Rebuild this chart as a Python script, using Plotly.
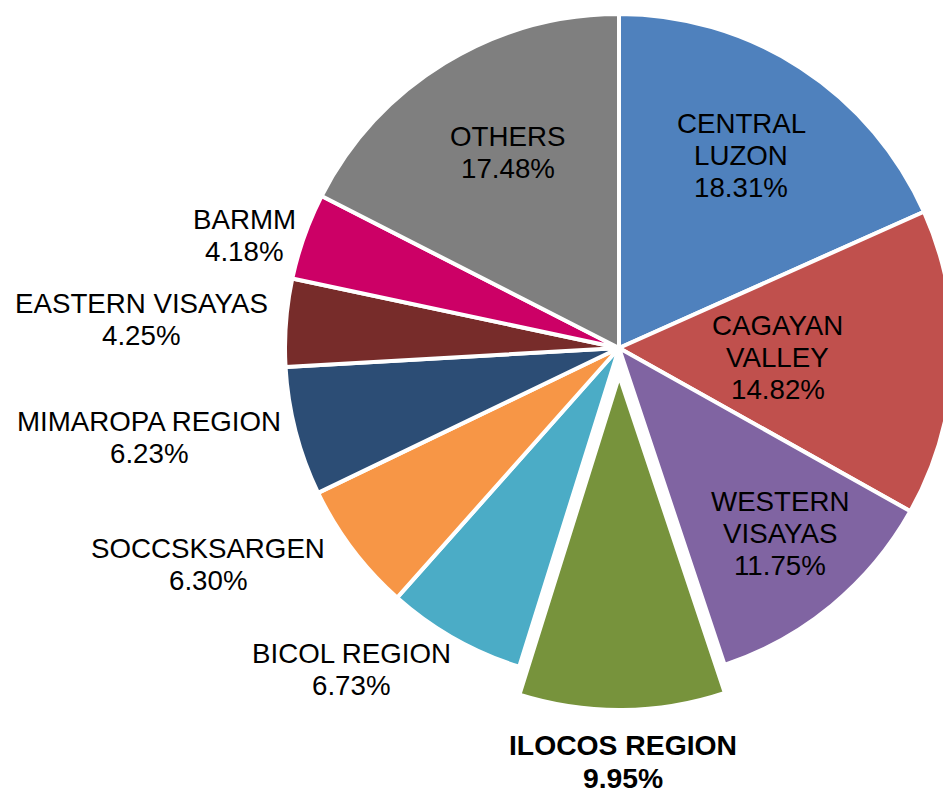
import math
import plotly.graph_objects as go

# ---------------- data ----------------
regions = ["CENTRAL LUZON", "CAGAYAN VALLEY", "WESTERN VISAYAS", "ILOCOS REGION",
           "BICOL REGION", "SOCCSKSARGEN", "MIMAROPA REGION", "EASTERN VISAYAS",
           "BARMM", "OTHERS"]
shares = [18.31, 14.82, 11.75, 9.95, 6.73, 6.30, 6.23, 4.25, 4.18, 17.48]
label_lines = [["CENTRAL", "LUZON"], ["CAGAYAN", "VALLEY"], ["WESTERN", "VISAYAS"],
               ["ILOCOS REGION"], ["BICOL REGION"], ["SOCCSKSARGEN"],
               ["MIMAROPA REGION"], ["EASTERN VISAYAS"], ["BARMM"], ["OTHERS"]]
highlight = "ILOCOS REGION"

# ---------------- styles / layout ----------------
colors = ["#4F81BD", "#C0504D", "#8064A2", "#77933C", "#4BACC6",
          "#F79646", "#2C4D75", "#772C2A", "#CC0066", "#7F7F7F"]
W, H = 960, 792
CX, CY, R = 619, 348, 334        # pie centre / radius in pixels
PULL_PX = 28                      # explode distance of highlighted slice
# label block anchor: (centre x, first baseline y) in pixels
label_anchor = [(741, 132.7), (777.5, 335), (780, 510.7), (623, 755), (351, 662.7),
                (208, 558), (149, 430.7), (141, 312.7), (244, 229), (507.5, 146)]
FS, FS_B = 27.7, 28.3
LINE_GAP, LINE_GAP_B = 32.3, 33
FONT = "Liberation Sans, Arial, sans-serif"
CLEAR = "rgba(0,0,0,0)"


def px_domain(cx, cy, r):
    return dict(x=[(cx - r) / W, (cx + r) / W], y=[1 - (cy + r) / H, 1 - (cy - r) / H])


hi = regions.index(highlight)
total = sum(shares)
before = sum(shares[:hi])
theta = (before + shares[hi] / 2) / total * 2 * math.pi
dx = math.sin(theta) * PULL_PX
dy = -math.cos(theta) * PULL_PX

fig = go.Figure()

# main pie (highlighted slice left empty)
fig.add_trace(go.Pie(
    labels=regions, values=shares, sort=False, direction="clockwise", rotation=0,
    marker=dict(colors=[CLEAR if i == hi else c for i, c in enumerate(colors)],
                line=dict(color=["white" if i != hi else CLEAR for i in range(len(regions))],
                          width=4)),
    textinfo="none", hoverinfo="label+percent", showlegend=False,
    domain=px_domain(CX, CY, R),
))
# exploded highlighted slice
fig.add_trace(go.Pie(
    labels=regions, values=shares, sort=False, direction="clockwise", rotation=0,
    marker=dict(colors=[c if i == hi else CLEAR for i, c in enumerate(colors)],
                line=dict(color=["white" if i == hi else CLEAR for i in range(len(regions))],
                          width=4)),
    textinfo="none", hoverinfo="label+percent", showlegend=False,
    domain=px_domain(CX + dx, CY + dy, R),
))

annotations = []
for i, (name, v) in enumerate(zip(regions, shares)):
    bold = name == highlight
    fs = FS_B if bold else FS
    gap = LINE_GAP_B if bold else LINE_GAP
    lines = label_lines[i] + [f"{v:.2f}%"]
    ax, ay = label_anchor[i]
    for k, t in enumerate(lines):
        base = ay + k * gap
        yc = base - 0.35 * fs
        annotations.append(dict(
            x=ax / W, y=1 - yc / H, xref="paper", yref="paper",
            text=f"<b>{t}</b>" if bold else t, showarrow=False,
            xanchor="center", yanchor="middle",
            font=dict(family=FONT, size=fs, color="black"),
        ))

fig.update_layout(
    width=W, height=H, margin=dict(l=0, r=0, t=0, b=0),
    paper_bgcolor="white", plot_bgcolor="white",
    annotations=annotations,
)
fig.write_html(
    "out.html",
    config={"displayModeBar": False},
    post_script="document.body.style.margin='0';document.body.style.overflow='hidden';",
)
